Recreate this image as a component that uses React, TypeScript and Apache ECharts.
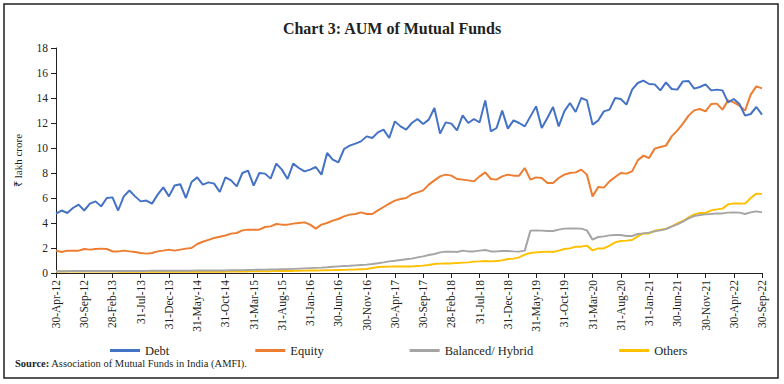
import React, { useEffect, useRef } from "react";
import * as echarts from "echarts";

const MONTHS = ["Jan", "Feb", "Mar", "Apr", "May", "Jun", "Jul", "Aug", "Sep", "Oct", "Nov", "Dec"];
const START_YEAR = 2012;
const START_MONTH = 3; // April
const N_MONTHS = 126;

const categories: string[] = [];
for (let k = 0; k < N_MONTHS; k++) {
  const m = START_MONTH + k;
  const y = START_YEAR + Math.floor(m / 12);
  const mm = m % 12;
  const last = new Date(y, mm + 1, 0).getDate();
  categories.push(`${last}-${MONTHS[mm]}-${String(y % 100).padStart(2, "0")}`);
}

const debt = [
  4.75, 5.0, 4.8, 5.2, 5.47, 5.0, 5.55, 5.73, 5.33, 6.0,
  6.05, 5.0, 6.13, 6.6, 6.13, 5.73, 5.8, 5.55, 6.27, 6.85,
  6.13, 7.0, 7.1, 6.0, 7.28, 7.65, 7.07, 7.25, 7.15, 6.48,
  7.65, 7.41, 6.93, 8.0, 8.19, 6.99, 8.0, 7.95, 7.55, 8.75,
  8.27, 7.52, 8.75, 8.4, 8.13, 8.27, 8.48, 7.87, 9.6, 9.07,
  8.85, 9.92, 10.19, 10.35, 10.53, 10.93, 10.8, 11.25, 11.47, 10.8,
  12.13, 11.73, 11.47, 12.0, 12.32, 11.92, 12.27, 13.2, 11.15, 12.05,
  11.95, 11.41, 12.61, 12.0, 12.32, 12.05, 13.81, 11.33, 11.6, 12.99,
  11.55, 12.21, 12.0, 11.73, 12.53, 13.33, 11.6, 12.4, 13.28, 11.73,
  12.93, 13.6, 12.88, 14.0, 13.81, 11.87, 12.2, 12.93, 13.07, 14.0,
  13.92, 13.47, 14.67, 15.2, 15.39, 15.12, 15.09, 14.61, 15.25, 14.72,
  14.67, 15.33, 15.36, 14.75, 14.88, 15.09, 14.61, 14.67, 14.61, 13.65,
  13.92, 13.52, 12.59, 12.72, 13.28, 12.67,
];

const equity = [
  1.79, 1.68, 1.79, 1.79, 1.79, 1.92, 1.87, 1.92, 1.95, 1.92,
  1.73, 1.73, 1.79, 1.73, 1.68, 1.6, 1.55, 1.6, 1.73, 1.79,
  1.87, 1.79, 1.87, 1.95, 2.0, 2.32, 2.5, 2.65, 2.8, 2.9,
  3.0, 3.15, 3.2, 3.41, 3.47, 3.47, 3.47, 3.68, 3.73, 3.92,
  3.87, 3.87, 3.95, 4.0, 4.05, 3.87, 3.55, 3.87, 4.0, 4.19,
  4.32, 4.53, 4.67, 4.72, 4.85, 4.72, 4.72, 5.01, 5.28, 5.55,
  5.79, 5.92, 6.0, 6.3, 6.45, 6.61, 7.07, 7.41, 7.73, 7.87,
  7.79, 7.52, 7.47, 7.41, 7.33, 7.73, 8.05, 7.52, 7.47, 7.73,
  7.87, 7.79, 7.79, 8.4, 7.47, 7.65, 7.6, 7.2, 7.2, 7.6,
  7.87, 8.0, 8.05, 8.27, 7.87, 6.13, 6.88, 6.83, 7.33, 7.68,
  8.0, 7.95, 8.13, 9.01, 9.39, 9.2, 9.95, 10.08, 10.19, 10.93,
  11.39, 11.95, 12.59, 13.01, 13.12, 12.93, 13.52, 13.55, 13.07, 13.81,
  13.65, 13.39, 12.99, 14.27, 14.93, 14.77,
];

const hybrid = [
  0.15, 0.15, 0.15, 0.16, 0.16, 0.16, 0.16, 0.17, 0.17, 0.17,
  0.17, 0.17, 0.17, 0.17, 0.17, 0.17, 0.17, 0.18, 0.18, 0.18,
  0.18, 0.18, 0.19, 0.19, 0.19, 0.2, 0.2, 0.2, 0.21, 0.21,
  0.21, 0.22, 0.22, 0.23, 0.24, 0.25, 0.26, 0.27, 0.28, 0.29,
  0.3, 0.31, 0.33, 0.35, 0.37, 0.39, 0.41, 0.43, 0.46, 0.5,
  0.53, 0.56, 0.58, 0.61, 0.64, 0.67, 0.72, 0.78, 0.85, 0.93,
  0.98, 1.04, 1.1, 1.15, 1.25, 1.33, 1.44, 1.52, 1.65, 1.71,
  1.71, 1.68, 1.79, 1.73, 1.73, 1.79, 1.84, 1.73, 1.73, 1.76,
  1.76, 1.73, 1.71, 1.79, 3.39, 3.41, 3.39, 3.36, 3.36, 3.47,
  3.55, 3.57, 3.57, 3.55, 3.41, 2.67, 2.88, 2.93, 3.01, 3.04,
  3.04, 2.96, 2.96, 3.12, 3.17, 3.23, 3.33, 3.41, 3.52, 3.71,
  3.89, 4.11, 4.37, 4.56, 4.64, 4.69, 4.72, 4.77, 4.77, 4.83,
  4.85, 4.83, 4.72, 4.85, 4.93, 4.85,
];

const others = [
  0.12, 0.12, 0.12, 0.12, 0.12, 0.12, 0.12, 0.12, 0.12, 0.12,
  0.12, 0.11, 0.11, 0.11, 0.11, 0.11, 0.11, 0.11, 0.11, 0.11,
  0.11, 0.11, 0.11, 0.11, 0.11, 0.11, 0.11, 0.11, 0.11, 0.11,
  0.11, 0.12, 0.12, 0.13, 0.13, 0.14, 0.14, 0.15, 0.15, 0.16,
  0.16, 0.17, 0.17, 0.18, 0.19, 0.2, 0.2, 0.21, 0.22, 0.23,
  0.24, 0.25, 0.27, 0.28, 0.3, 0.32, 0.4, 0.48, 0.5, 0.51,
  0.52, 0.52, 0.53, 0.53, 0.56, 0.59, 0.64, 0.72, 0.75, 0.77,
  0.77, 0.8, 0.83, 0.85, 0.91, 0.93, 0.96, 0.93, 0.96, 1.01,
  1.12, 1.15, 1.25, 1.47, 1.6, 1.65, 1.68, 1.71, 1.68, 1.79,
  1.92, 1.97, 2.11, 2.11, 2.19, 1.81, 1.97, 1.97, 2.19, 2.45,
  2.56, 2.59, 2.64, 2.93, 3.17, 3.17, 3.39, 3.47, 3.52, 3.73,
  3.97, 4.16, 4.45, 4.69, 4.8, 4.8, 5.01, 5.09, 5.15, 5.49,
  5.57, 5.57, 5.55, 6.0, 6.35, 6.32,
];

const SERIES_NAMES = ["Debt", "Equity", "Balanced/ Hybrid", "Others"];
const COLORS = ["#4472C4", "#ED7D31", "#A5A5A5", "#FFC000"];
const FONT = "Liberation Serif";

export default function App() {
  const ref = useRef<HTMLDivElement>(null);
  useEffect(() => {
    if (!ref.current) return;
    const chart = echarts.init(ref.current, undefined, { renderer: "svg" });
    const data = [debt, equity, hybrid, others];
    chart.setOption({
      animation: false,
      backgroundColor: "#ffffff",
      title: {
        text: "Chart 3: AUM of Mutual Funds",
        left: "center",
        top: 15,
        textStyle: { fontFamily: FONT, fontSize: 16, fontWeight: "bold", color: "#231f20" },
      },
      grid: { left: 56, right: 22, top: 48, bottom: 111 },
      legend: {
        data: SERIES_NAMES,
        left: 105,
        top: 339,
        itemGap: 86,
        itemWidth: 30,
        itemHeight: 3,
        icon: "rect",
        textStyle: {
          fontFamily: FONT,
          fontSize: 12.5,
          color: "#231f20",
        },
      },
      xAxis: {
        type: "category",
        data: categories,
        boundaryGap: false,
        axisLine: { lineStyle: { color: "#231f20", width: 1 } },
        axisTick: { interval: 4, length: 5, lineStyle: { color: "#231f20" } },
        axisLabel: {
          interval: 4,
          rotate: 90,
          margin: 7,
          fontFamily: FONT,
          fontSize: 11.5,
          color: "#231f20",
        },
        splitLine: { show: false },
      },
      yAxis: {
        type: "value",
        min: 0,
        max: 18,
        interval: 2,
        name: "₹ lakh crore",
        nameLocation: "middle",
        nameRotate: 90,
        nameGap: 33,
        nameTextStyle: { fontFamily: FONT, fontSize: 11, color: "#231f20" },
        axisLine: { show: true, lineStyle: { color: "#231f20", width: 1 } },
        axisTick: { show: true, length: 5, lineStyle: { color: "#231f20" } },
        axisLabel: { fontFamily: FONT, fontSize: 11.5, color: "#231f20", margin: 8 },
        splitLine: { show: false },
      },
      series: SERIES_NAMES.map((name, k) => ({
        name,
        type: "line",
        data: data[k],
        showSymbol: false,
        symbol: "none",
        color: COLORS[k],
        lineStyle: { color: COLORS[k], width: 2 },
        z: 10 - k,
      })),
      graphic: [
        {
          type: "rect",
          shape: { x: 4, y: 4, width: 774, height: 374 },
          style: { fill: "none", stroke: "#231f20", lineWidth: 1.5 },
          silent: true,
        },
        {
          type: "text",
          left: 15,
          top: 358,
          style: {
            text: "{b|Source:} Association of Mutual Funds in India (AMFI).",
            rich: {
              b: { fontFamily: FONT, fontSize: 10.5, fontWeight: "bold", fill: "#231f20" },
            },
            fontFamily: FONT,
            fontSize: 10.5,
            fill: "#231f20",
          },
        },
      ],
    });
    return () => chart.dispose();
  }, []);
  return (
    <div
      ref={ref}
      style={{ position: "fixed", left: 0, top: 0, width: 784, height: 384 }}
    />
  );
}
